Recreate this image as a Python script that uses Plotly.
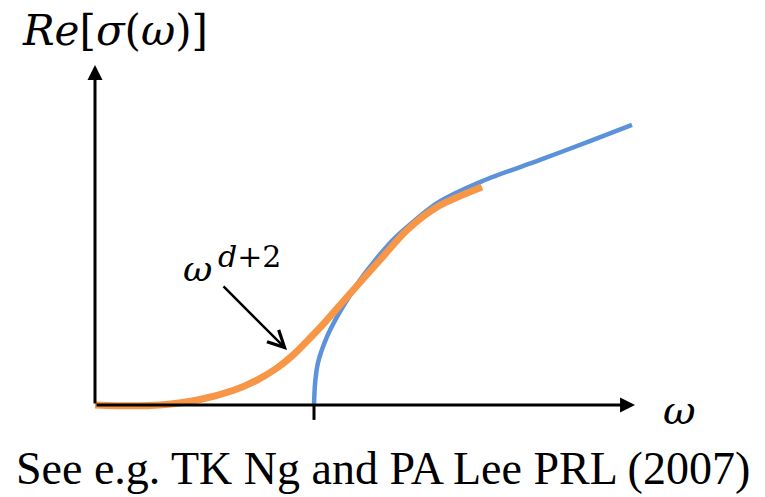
import plotly.graph_objects as go

# scale: 219 px per unit, origin at pixel (95, 405)
# Blue curve (onset at the gap omega = 1)
blue_w = [1.000, 1.005, 1.018, 1.059, 1.105, 1.151, 1.210, 1.269, 1.347, 1.425, 1.562, 1.758, 2.032, 2.260, 2.452]
blue_s = [0.000, 0.100, 0.192, 0.311, 0.402, 0.479, 0.571, 0.648, 0.740, 0.813, 0.922, 1.018, 1.119, 1.205, 1.279]

# Orange curve (omega^(d+2) behaviour)
orange_w = [0.000, 0.160, 0.297, 0.479, 0.630, 0.740, 0.831, 0.904, 0.982, 1.059, 1.151, 1.301, 1.425, 1.562, 1.767]
orange_s = [0.000, -0.004, 0.000, 0.025, 0.066, 0.114, 0.169, 0.228, 0.306, 0.388, 0.493, 0.662, 0.799, 0.904, 0.995]

# axes extents
x_axis_end = 2.466
y_axis_end = 1.553
gap_tick = 1.0
tick_len = 0.068

x_range = [-0.4338, 3.0594]
y_range = [-0.4201, 1.8493]

fig = go.Figure()

# tick mark at gap
fig.add_trace(go.Scatter(x=[gap_tick, gap_tick], y=[0, -tick_len], mode="lines",
                         line=dict(color="black", width=3), hoverinfo="skip"))

fig.add_trace(go.Scatter(x=blue_w, y=blue_s, mode="lines",
                         line=dict(color="#5B92D9", width=4.5, shape="spline", smoothing=0.8),
                         hoverinfo="skip"))
fig.add_trace(go.Scatter(x=orange_w, y=orange_s, mode="lines",
                         line=dict(color="#F79646", width=7, shape="spline", smoothing=0.8),
                         hoverinfo="skip"))

ann = []
# x axis arrow
ann.append(dict(x=x_axis_end, y=0, ax=0, ay=0, xref="x", yref="y", axref="x", ayref="y",
                showarrow=True, arrowhead=2, arrowsize=1, arrowwidth=3, arrowcolor="black", text=""))
# y axis arrow
ann.append(dict(x=0, y=y_axis_end, ax=0, ay=0, xref="x", yref="y", axref="x", ayref="y",
                showarrow=True, arrowhead=2, arrowsize=1, arrowwidth=3, arrowcolor="black", text=""))
# pointer arrow to orange curve
ann.append(dict(x=0.877, y=0.251, ax=0.580, ay=0.548, xref="x", yref="y", axref="x", ayref="y",
                showarrow=True, arrowhead=5, arrowsize=1.3, arrowwidth=2.5, arrowcolor="black", text=""))

serif_math = "DejaVu Serif, serif"
ann.append(dict(x=0.092, y=1.712, xref="x", yref="y", showarrow=False,
                text="<i>Re</i>[<i>σ</i>(<i>ω</i>)]",
                font=dict(family=serif_math, size=42, color="black")))
ann.append(dict(x=2.671, y=-0.023, xref="x", yref="y", showarrow=False,
                text="<i>ω</i>", font=dict(family=serif_math, size=40, color="black")))
ann.append(dict(x=0.470, y=0.625, xref="x", yref="y", showarrow=False,
                text="<i>ω</i>", font=dict(family=serif_math, size=36, color="black")))
ann.append(dict(x=0.705, y=0.680, xref="x", yref="y", showarrow=False,
                text="<i>d</i>+2", font=dict(family=serif_math, size=30, color="black")))
ann.append(dict(x=1.315, y=-0.292, xref="x", yref="y", showarrow=False,
                text="See e.g. TK Ng and PA Lee PRL (2007)",
                font=dict(family="Liberation Serif", size=46, color="black")))

fig.update_layout(
    width=765, height=497, margin=dict(l=0, r=0, t=0, b=0),
    paper_bgcolor="white", plot_bgcolor="white", showlegend=False,
    xaxis=dict(range=x_range, visible=False, fixedrange=True),
    yaxis=dict(range=y_range, visible=False, fixedrange=True),
    annotations=ann,
)

fig.write_html("out.html")
